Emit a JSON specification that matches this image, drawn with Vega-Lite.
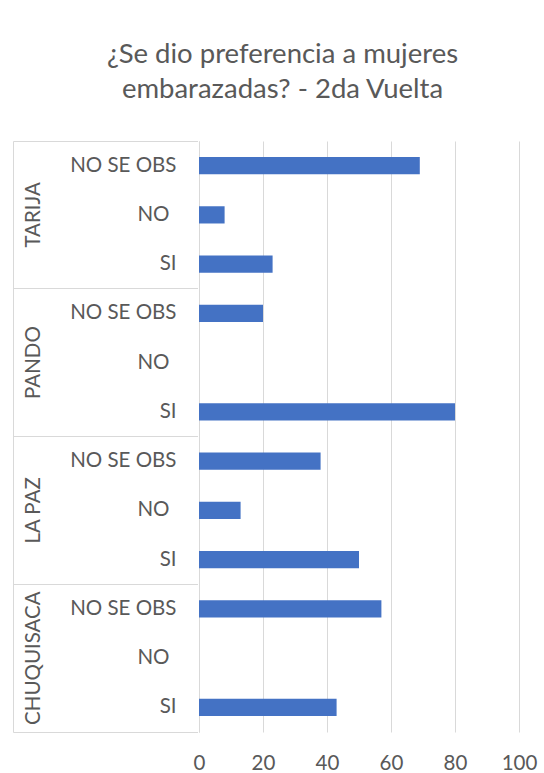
{
  "$schema": "https://vega.github.io/schema/vega-lite/v6.json",
  "padding": {"left": 12, "top": 41, "right": 25, "bottom": 0},
  "background": "white",
  "width": 320,
  "height": 591,
  "title": {
    "text": ["¿Se dio preferencia a mujeres", "embarazadas? - 2da Vuelta"],
    "font": "Lato",
    "fontSize": 27.5,
    "fontWeight": "normal",
    "color": "#595959",
    "anchor": "middle",
    "frame": "group",
    "dx": -76.5,
    "lineHeight": 35,
    "offset": 37
  },
  "data": {
    "values": [
      {"clave": "TARIJA|NO SE OBS", "depto": "TARIJA", "respuesta": "NO SE OBS", "valor": 69},
      {"clave": "TARIJA|NO", "depto": "TARIJA", "respuesta": "NO", "valor": 8},
      {"clave": "TARIJA|SI", "depto": "TARIJA", "respuesta": "SI", "valor": 23},
      {"clave": "PANDO|NO SE OBS", "depto": "PANDO", "respuesta": "NO SE OBS", "valor": 20},
      {"clave": "PANDO|NO", "depto": "PANDO", "respuesta": "NO", "valor": 0},
      {"clave": "PANDO|SI", "depto": "PANDO", "respuesta": "SI", "valor": 80},
      {"clave": "LA PAZ|NO SE OBS", "depto": "LA PAZ", "respuesta": "NO SE OBS", "valor": 38},
      {"clave": "LA PAZ|NO", "depto": "LA PAZ", "respuesta": "NO", "valor": 13},
      {"clave": "LA PAZ|SI", "depto": "LA PAZ", "respuesta": "SI", "valor": 50},
      {"clave": "CHUQUISACA|NO SE OBS", "depto": "CHUQUISACA", "respuesta": "NO SE OBS", "valor": 57},
      {"clave": "CHUQUISACA|NO", "depto": "CHUQUISACA", "respuesta": "NO", "valor": 0},
      {"clave": "CHUQUISACA|SI", "depto": "CHUQUISACA", "respuesta": "SI", "valor": 43}
    ]
  },
  "layer": [
    {
      "mark": {"type": "bar", "color": "#4472C4", "height": {"band": 0.35}},
      "encoding": {
        "x": {
          "field": "valor",
          "type": "quantitative",
          "scale": {"domain": [0, 100], "nice": false},
          "axis": {
            "values": [0, 20, 40, 60, 80, 100],
            "title": null,
            "grid": true,
            "gridColor": "#d9d9d9",
            "gridWidth": 1,
            "domain": false,
            "ticks": false,
            "labelFlush": false,
            "labelFont": "Lato",
            "labelFontSize": 20.5,
            "labelColor": "#595959",
            "labelPadding": 21
          }
        },
        "y": {
          "field": "clave",
          "type": "nominal",
          "sort": null,
          "scale": {
            "domain": ["TARIJA|NO SE OBS", "TARIJA|NO", "TARIJA|SI", "PANDO|NO SE OBS", "PANDO|NO", "PANDO|SI", "LA PAZ|NO SE OBS", "LA PAZ|NO", "LA PAZ|SI", "CHUQUISACA|NO SE OBS", "CHUQUISACA|NO", "CHUQUISACA|SI"],
            "paddingInner": 0,
            "paddingOuter": 0
          },
          "axis": {
            "orient": "left",
            "title": null,
            "labelExpr": "split(datum.value, '|')[1]",
            "ticks": false,
            "tickSize": 0,
            "domain": true,
            "domainColor": "#d9d9d9",
            "domainWidth": 1,
            "grid": false,
            "labelFont": "Lato",
            "labelFontSize": 20.5,
            "labelColor": "#595959",
            "labelPadding": {"condition": {"test": "split(datum.value, '|')[1] == 'NO'", "value": 30}, "value": 23},
            "labelOverlap": false
          }
        }
      }
    },
    {
      "mark": {"type": "bar", "opacity": 0},
      "encoding": {
        "y": {
          "field": "clave",
          "type": "nominal",
          "sort": null,
          "axis": {
            "orient": "left",
            "title": null,
            "values": ["TARIJA|NO", "PANDO|NO", "LA PAZ|NO", "CHUQUISACA|NO"],
            "labelExpr": "split(datum.value, '|')[0]",
            "labelAngle": 270,
            "labelAlign": "center",
            "labelBaseline": "middle",
            "labelPadding": 165.5,
            "labelOverlap": false,
            "labelBound": false,
            "ticks": false,
            "tickSize": 0,
            "domain": false,
            "grid": false,
            "labelFont": "Lato",
            "labelFontSize": 20.5,
            "labelColor": "#595959"
          }
        }
      }
    },
    {
      "mark": {"type": "bar", "opacity": 0},
      "encoding": {
        "y": {
          "field": "clave",
          "type": "nominal",
          "sort": null,
          "axis": {
            "orient": "left",
            "title": null,
            "offset": 186,
            "values": ["TARIJA|NO SE OBS", "PANDO|NO SE OBS", "LA PAZ|NO SE OBS", "CHUQUISACA|NO SE OBS"],
            "bandPosition": 0,
            "labels": false,
            "ticks": true,
            "tickSize": -184.5,
            "tickColor": "#d9d9d9",
            "tickWidth": 1,
            "domain": true,
            "domainColor": "#d9d9d9",
            "domainWidth": 1,
            "grid": false
          }
        }
      }
    },
    {
      "mark": {"type": "bar", "opacity": 0},
      "encoding": {
        "y": {
          "field": "clave",
          "type": "nominal",
          "sort": null,
          "axis": {
            "orient": "left",
            "title": null,
            "offset": 186,
            "values": ["CHUQUISACA|SI"],
            "bandPosition": 1,
            "labels": false,
            "ticks": true,
            "tickSize": -184.5,
            "tickColor": "#d9d9d9",
            "tickWidth": 1,
            "domain": false,
            "grid": false
          }
        }
      }
    }
  ],
  "resolve": {"axis": {"y": "independent"}},
  "config": {"view": {"stroke": null}}
}
